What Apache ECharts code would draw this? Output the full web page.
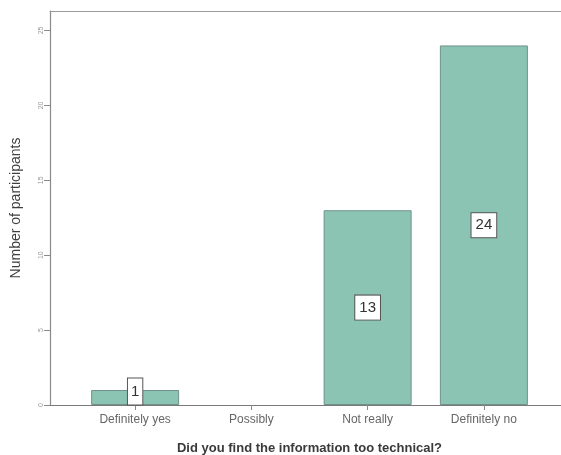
<!DOCTYPE html>
<html>
<head>
<meta charset="utf-8">
<script src="https://cdn.jsdelivr.net/npm/echarts@6/dist/echarts.min.js"></script>
<style>
  html, body { margin: 0; padding: 0; background: #fff; }
  #chart { width: 561px; height: 455px; }
</style>
</head>
<body>
<div id="chart"></div>
<script>
// Survey answers and participant counts
const categories = ['Definitely yes', 'Possibly', 'Not really', 'Definitely no'];
const counts = [1, 0, 13, 24];
const yTicks = [0, 5, 10, 15, 20, 25];

const yMax = 26.3;
const FONT = '"Liberation Sans", Arial, sans-serif';

const chart = echarts.init(document.getElementById('chart'), null, { renderer: 'canvas' });

const barData = counts.map(function (v) {
  const item = { value: v };
  if (v === 0) {
    item.label = { show: false };
    item.itemStyle = { borderWidth: 0 };
  }
  if (v > 0 && v < 3) item.label = { position: 'inside', offset: [0, -6], padding: [6, 3, 5, 3] };
  return item;
});

chart.setOption({
  animation: false,
  backgroundColor: '#ffffff',
  grid: [
    // frame grid: axis lines spanning the full plot
    { left: 50, right: 0, top: 11, bottom: 50, containLabel: false, outerBoundsMode: 'none' },
    // bar grid: category bands
    { left: 77, right: 19, top: 11, bottom: 50, containLabel: false, outerBoundsMode: 'none' }
  ],
  xAxis: [
    {
      gridIndex: 0, type: 'value', min: 0, max: 1, position: 'bottom',
      axisLine: { show: true, lineStyle: { color: '#7a7a7a', width: 1.2 } },
      axisTick: { show: false }, axisLabel: { show: false }, splitLine: { show: false }
    },
    {
      gridIndex: 0, type: 'value', min: 0, max: 1, position: 'top',
      axisLine: { show: true, lineStyle: { color: '#9a9a9a', width: 1.2 } },
      axisTick: { show: false }, axisLabel: { show: false }, splitLine: { show: false }
    },
    {
      gridIndex: 1, type: 'category', data: categories, position: 'bottom',
      axisLine: { show: false },
      axisTick: { show: true, alignWithLabel: true, length: 5, inside: false,
        lineStyle: { color: '#8a8a8a' } },
      axisLabel: { show: true, color: '#666666', fontFamily: FONT, fontSize: 12, margin: 9 },
      name: 'Did you find the information too technical?',
      nameLocation: 'middle', nameGap: 37,
      nameTextStyle: { color: '#3a3a3a', fontFamily: FONT, fontSize: 13, fontWeight: 'bold' },
      splitLine: { show: false }
    }
  ],
  yAxis: [
    {
      gridIndex: 0, type: 'value', min: 0, max: yMax, interval: 5,
      axisLine: { show: true, lineStyle: { color: '#8a8a8a', width: 1.2 } },
      axisTick: { show: true, length: 6, lineStyle: { color: '#8a8a8a' } },
      axisLabel: {
        show: true, rotate: 90, color: '#9a9a9a', fontFamily: FONT, fontSize: 7, margin: 5,
        showMaxLabel: false,
        formatter: function (v) { return yTicks.indexOf(v) >= 0 ? String(v) : ''; }
      },
      name: 'Number of participants', nameLocation: 'middle', nameGap: 27, nameRotate: 90,
      nameTextStyle: { color: '#3f3f3f', fontFamily: FONT, fontSize: 14 },
      splitLine: { show: false }
    },
    {
      gridIndex: 1, type: 'value', min: 0, max: yMax, interval: 5,
      axisLine: { show: false }, axisTick: { show: false }, axisLabel: { show: false },
      splitLine: { show: false }
    }
  ],
  series: [{
    type: 'bar',
    xAxisIndex: 2,
    yAxisIndex: 1,
    data: barData,
    barWidth: 88,
    itemStyle: { color: '#8cc4b3', borderColor: '#6f918a', borderWidth: 1 },
    label: {
      show: true,
      position: 'inside',
      color: '#333333',
      fontFamily: FONT,
      fontSize: 15,
      backgroundColor: '#ffffff',
      borderColor: '#555555',
      borderWidth: 1,
      padding: [5, 4, 4, 4]
    }
  }]
});
</script>
</body>
</html>
